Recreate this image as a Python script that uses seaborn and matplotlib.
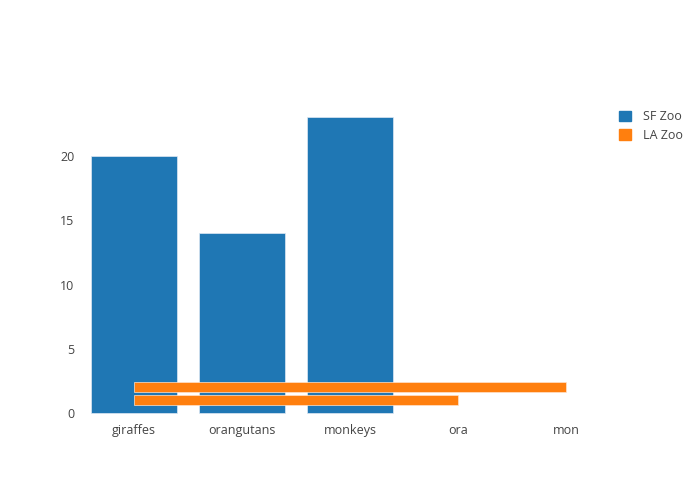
import matplotlib
matplotlib.use("Agg")
import matplotlib.pyplot as plt
import seaborn as sns
import pandas as pd
from matplotlib.patches import Patch

categories = ["giraffes", "orangutans", "monkeys", "ora", "mon"]
sf_animals = ["giraffes", "orangutans", "monkeys"]
sf_values = [20, 14, 23]
la_x = ["mon", "ora"]
la_y = [2, 1]

sns.set_theme(style="white")
plt.rcParams['font.family'] = ['Open Sans', 'DejaVu Sans']

fig = plt.figure(figsize=(7, 5), dpi=100)
ax = fig.add_axes([80/700, 80/500, 540/700, 320/500])

df = pd.DataFrame({"animal": sf_animals, "count": sf_values})
sns.barplot(data=df, x="animal", y="count", order=categories, color="#1f77b4",
            saturation=1, width=0.8, ax=ax, linewidth=0.5, edgecolor="#dfe9f3")

la_pos = [categories.index(c) for c in la_x]
ax.barh(la_y, la_pos, left=0, height=0.8, color="#ff7f0e",
        linewidth=0.5, edgecolor="#ffe3cc")

ax.set_xlim(-0.5, 4.5)
ax.set_ylim(-0.54, 24.36)
ax.set_yticks([0, 5, 10, 15, 20])
ax.set_xticks(range(len(categories)))
ax.set_xticklabels(categories)
ax.set_xlabel("")
ax.set_ylabel("")
for s in ax.spines.values():
    s.set_visible(False)
ax.tick_params(axis="both", length=0, labelsize=9, colors="#444444")
ax.tick_params(axis="x", pad=3)
ax.tick_params(axis="y", pad=4)

handles = [Patch(color="#1f77b4", label="SF Zoo"), Patch(color="#ff7f0e", label="LA Zoo")]
fig.legend(handles=handles, loc="upper left", bbox_to_anchor=(608/700, 1 - 99/500),
           frameon=False, fontsize=9, labelcolor="#444444", handlelength=0.9,
           handleheight=0.9, handletextpad=1.0, labelspacing=0.45)

fig.savefig("out.png", dpi=100)
